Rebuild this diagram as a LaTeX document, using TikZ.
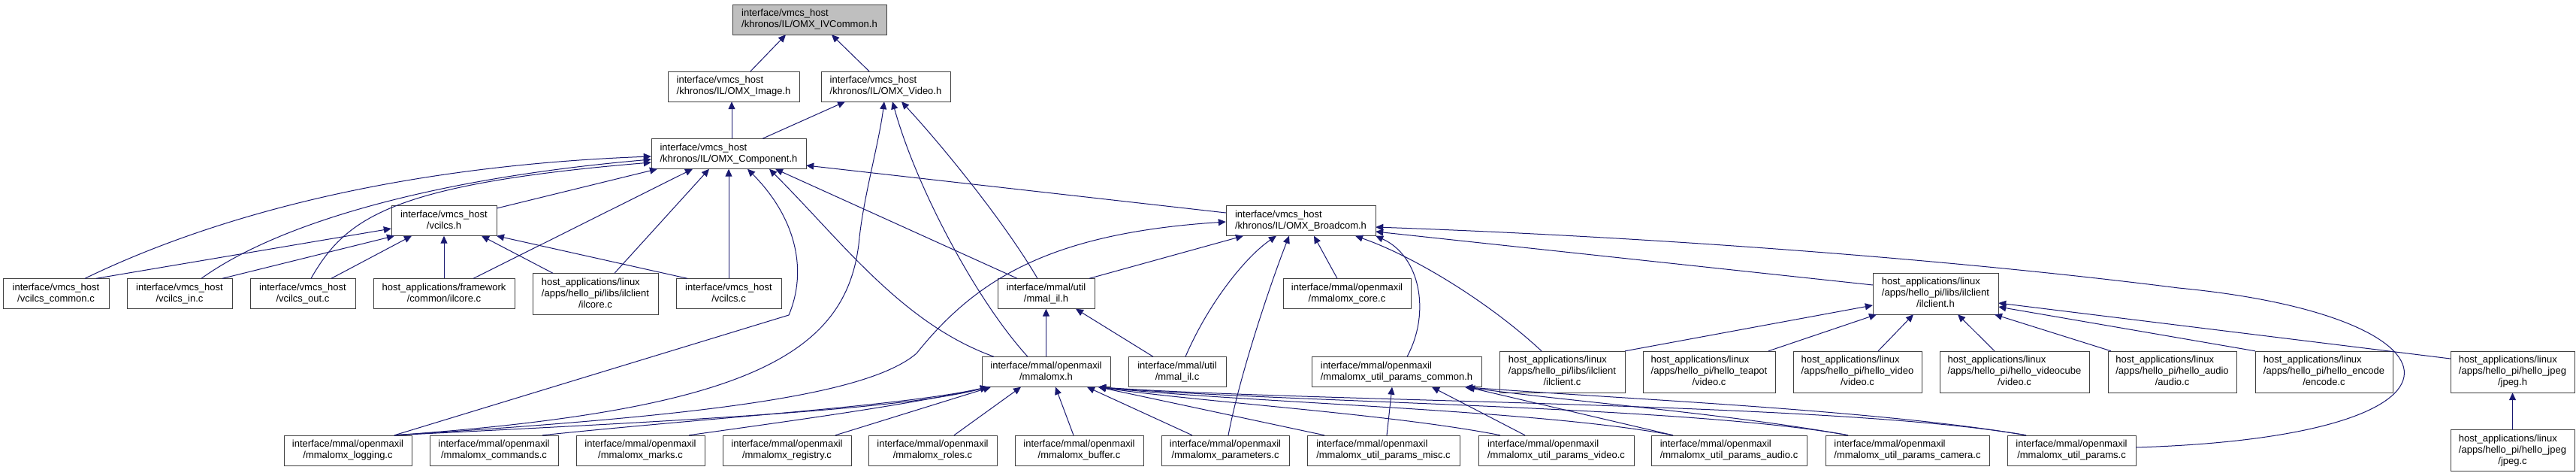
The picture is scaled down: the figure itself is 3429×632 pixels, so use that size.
\documentclass[tikz,border=0pt]{standalone}
\usepackage{fontspec}
\setmainfont{Liberation Sans}
\usetikzlibrary{arrows.meta}
\usepackage{xcolor}
\definecolor{edgeblue}{HTML}{191970}
\newcommand{\lbltwo}[2]{\begin{tabular}{@{}l@{}}#1\\\multicolumn{1}{@{}c@{}}{#2}\end{tabular}}
\newcommand{\lblthree}[3]{\begin{tabular}{@{}l@{}}#1\\#2\\\multicolumn{1}{@{}c@{}}{#3}\end{tabular}}

\begin{document}
\begin{tikzpicture}[x=1pt,y=-1pt,
    filebox/.style={draw=black!75,fill=white,inner xsep=6pt,inner ysep=2pt,minimum height=40pt,anchor=center,font=\fontsize{13}{15}\selectfont},
    tall/.style={minimum height=55pt},
    root/.style={fill=gray!50},
    dep/.style={draw=edgeblue,line width=1pt,-{Triangle[length=10pt,width=9pt]}},
]
\fill[white] (0,0) rectangle (3429,632);
\useasboundingbox (0,0) rectangle (3429,632);

% headers
\node[filebox,root,minimum width=205pt] (ivc)  at (1077.5,26)  {\lbltwo{interface/vmcs\_host}{/khronos/IL/OMX\_IVCommon.h}};
\node[filebox,minimum width=175pt]      (img)  at (976.5,115)  {\lbltwo{interface/vmcs\_host}{/khronos/IL/OMX\_Image.h}};
\node[filebox,minimum width=172pt]      (vid)  at (1179,115)   {\lbltwo{interface/vmcs\_host}{/khronos/IL/OMX\_Video.h}};
\node[filebox,minimum width=206pt]      (comp) at (970,204.5)  {\lbltwo{interface/vmcs\_host}{/khronos/IL/OMX\_Component.h}};
\node[filebox,minimum width=140pt]      (vch)  at (591,293.5)  {\lbltwo{interface/vmcs\_host}{/vcilcs.h}};
\node[filebox,minimum width=199pt]      (bcm)  at (1731.5,293.5) {\lbltwo{interface/vmcs\_host}{/khronos/IL/OMX\_Broadcom.h}};

% third row
\node[filebox,minimum width=141pt]      (vcom)  at (74.5,390.5)  {\lbltwo{interface/vmcs\_host}{/vcilcs\_common.c}};
\node[filebox,minimum width=140pt]      (vin)   at (239,390.5)   {\lbltwo{interface/vmcs\_host}{/vcilcs\_in.c}};
\node[filebox,minimum width=140pt]      (vout)  at (403,390.5)   {\lbltwo{interface/vmcs\_host}{/vcilcs\_out.c}};
\node[filebox,minimum width=188pt]      (fwil)  at (591,390.5)   {\lbltwo{host\_applications/framework}{/common/ilcore.c}};
\node[filebox,tall,minimum width=167pt] (libil) at (792.5,391)   {\lblthree{host\_applications/linux}{/apps/hello\_pi/libs/ilclient}{/ilcore.c}};
\node[filebox,minimum width=140pt]      (vcc)   at (970,390.5)   {\lbltwo{interface/vmcs\_host}{/vcilcs.c}};
\node[filebox,minimum width=129pt]      (milh)  at (1392.5,390.5) {\lbltwo{interface/mmal/util}{/mmal\_il.h}};
\node[filebox,minimum width=170pt]      (core)  at (1793,390.5)  {\lbltwo{interface/mmal/openmaxil}{/mmalomx\_core.c}};
\node[filebox,tall,minimum width=167pt] (ilch)  at (2576.5,390.5) {\lblthree{host\_applications/linux}{/apps/hello\_pi/libs/ilclient}{/ilclient.h}};

% fourth row
\node[filebox,minimum width=171pt]      (omxh)   at (1392.5,494.5) {\lbltwo{interface/mmal/openmaxil}{/mmalomx.h}};
\node[filebox,minimum width=130pt]      (milc)   at (1567,494.5)   {\lbltwo{interface/mmal/util}{/mmal\_il.c}};
\node[filebox,minimum width=226pt]      (upch)   at (1859,494.5)   {\lbltwo{interface/mmal/openmaxil}{/mmalomx\_util\_params\_common.h}};
\node[filebox,tall,minimum width=167pt] (ilcc)   at (2079.5,494.5) {\lblthree{host\_applications/linux}{/apps/hello\_pi/libs/ilclient}{/ilclient.c}};
\node[filebox,tall,minimum width=176pt] (teapot) at (2275,494.5)   {\lblthree{host\_applications/linux}{/apps/hello\_pi/hello\_teapot}{/video.c}};
\node[filebox,tall,minimum width=171pt] (hvid)   at (2472.5,494.5) {\lblthree{host\_applications/linux}{/apps/hello\_pi/hello\_video}{/video.c}};
\node[filebox,tall,minimum width=199pt] (vcube)  at (2681.5,494.5) {\lblthree{host\_applications/linux}{/apps/hello\_pi/hello\_videocube}{/video.c}};
\node[filebox,tall,minimum width=171pt] (haud)   at (2891.5,494.5) {\lblthree{host\_applications/linux}{/apps/hello\_pi/hello\_audio}{/audio.c}};
\node[filebox,tall,minimum width=183pt] (henc)   at (3093.5,494.5) {\lblthree{host\_applications/linux}{/apps/hello\_pi/hello\_encode}{/encode.c}};
\node[filebox,tall,minimum width=165pt] (jpgh)   at (3344.5,494.5) {\lblthree{host\_applications/linux}{/apps/hello\_pi/hello\_jpeg}{/jpeg.h}};

% bottom row
\node[filebox,minimum width=170pt]      (log)   at (463,599)    {\lbltwo{interface/mmal/openmaxil}{/mmalomx\_logging.c}};
\node[filebox,minimum width=171pt]      (cmd)   at (657.5,599)  {\lbltwo{interface/mmal/openmaxil}{/mmalomx\_commands.c}};
\node[filebox,minimum width=171pt]      (marks) at (852.5,599)  {\lbltwo{interface/mmal/openmaxil}{/mmalomx\_marks.c}};
\node[filebox,minimum width=171pt]      (reg)   at (1047.5,599) {\lbltwo{interface/mmal/openmaxil}{/mmalomx\_registry.c}};
\node[filebox,minimum width=171pt]      (roles) at (1241.5,599) {\lbltwo{interface/mmal/openmaxil}{/mmalomx\_roles.c}};
\node[filebox,minimum width=171pt]      (buf)   at (1436.5,599) {\lbltwo{interface/mmal/openmaxil}{/mmalomx\_buffer.c}};
\node[filebox,minimum width=170pt]      (par)   at (1631,599)   {\lbltwo{interface/mmal/openmaxil}{/mmalomx\_parameters.c}};
\node[filebox,minimum width=203pt]      (misc)  at (1841.5,599) {\lbltwo{interface/mmal/openmaxil}{/mmalomx\_util\_params\_misc.c}};
\node[filebox,minimum width=207pt]      (pvid)  at (2071.5,599) {\lbltwo{interface/mmal/openmaxil}{/mmalomx\_util\_params\_video.c}};
\node[filebox,minimum width=207pt]      (paud)  at (2301.5,599) {\lbltwo{interface/mmal/openmaxil}{/mmalomx\_util\_params\_audio.c}};
\node[filebox,minimum width=218pt]      (cam)   at (2539,599)   {\lbltwo{interface/mmal/openmaxil}{/mmalomx\_util\_params\_camera.c}};
\node[filebox,minimum width=171pt]      (upc)   at (2757.5,599) {\lbltwo{interface/mmal/openmaxil}{/mmalomx\_util\_params.c}};
\node[filebox,tall,minimum width=165pt] (jpgc)  at (3344.5,599) {\lblthree{host\_applications/linux}{/apps/hello\_pi/hello\_jpeg}{/jpeg.c}};

% straight includes, top of child to bottom of parent
\foreach \c/\dc/\p/\dp in {img/22.5/ivc/-31.5, vid/-22/ivc/29.5,
    comp/4/img/-2.5, comp/45/vid/-54,
    fwil/39/comp/-48, libil/25.5/comp/-26, vcc/0/comp/0, milh/-38.5/comp/62,
    vin/57/vch/-66, vout/38/vch/-43, fwil/0/vch/0, libil/-56.5/vch/50, vcc/-55/vch/70,
    milh/57.5/bcm/-76.5, core/-13/bcm/17.5,
    omxh/0/milh/0, milc/-32/milh/39.5,
    reg/64.5/omxh/-73.5, roles/28.5/omxh/-33.5, buf/-7.5/omxh/12.5, par/-44/omxh/54.5, misc/-78.5/omxh/69.5,
    misc/4.5/upch/-6, pvid/-41.5/upch/47, paud/-74.5/upch/94,
    teapot/79/ilch/-78.5, hvid/27.5/ilch/-29.5, vcube/-26.5/ilch/29.5, haud/-81.5/ilch/78.5,
    jpgc/0/jpgh/0}
  \draw[dep] ([xshift=\dc pt]\c.north) -- ([xshift=\dp pt]\p.south);

% side entries
\draw[dep] (bcm.west |- 0,283) -- (comp.east |- 0,220);
\draw[dep] (vch.east |- 0,277) -- ([xshift=-95pt]comp.south);
\draw[dep] ([xshift=53.5pt]vcom.north) -- (vch.west |- 0,304);
\draw[dep] (ilch.west |- 0,379) -- (bcm.east |- 0,308);
\draw[dep] (ilcc.north east) -- (ilch.west |- 0,406);
\draw[dep] (henc.north west) -- (ilch.east |- 0,408);
\draw[dep] (jpgh.west |- 0,477) -- (ilch.east |- 0,403);

% curved includes of OMX_Component.h and OMX_Video.h
\draw[dep] ([xshift=38.5pt]vcom.north) .. controls (300,280) and (550,220) .. (comp.west |- 0,208);
\draw[dep] ([xshift=29pt]vin.north) .. controls (380,290) and (600,235) .. (comp.west |- 0,212);
\draw[dep] ([xshift=11pt]vout.north) .. controls (460,290) and (520,245) .. (comp.west |- 0,216);
\draw[dep] ([xshift=-69.5pt]omxh.north) .. controls (1200,430) and (1120,320) .. ([xshift=54pt]comp.south);
\draw[dep] ([xshift=62pt]log.north) -- (1050,419) .. controls (1075,360) and (1060,290) .. ([xshift=25pt]comp.south);
\draw[dep] ([xshift=62pt]log.north) .. controls (1000,545) and (1130,470) .. (1144,316) .. controls (1150,260) and (1170,190) .. ([xshift=-2pt]vid.south);
\draw[dep] ([xshift=-24.5pt]omxh.north) .. controls (1300,400) and (1220,250) .. ([xshift=9pt]vid.south);
\draw[dep] ([xshift=-11.5pt]milh.north) .. controls (1340,300) and (1260,200) .. ([xshift=21pt]vid.south);

% curved includes of OMX_Broadcom.h
\draw[dep] ([xshift=62pt]log.north) .. controls (900,555) and (1150,530) .. (1220,470) .. controls (1300,370) and (1400,310) .. (bcm.west |- 0,295);
\draw[dep] ([xshift=11pt]milc.north) .. controls (1610,400) and (1660,340) .. ([xshift=-32.5pt]bcm.south);
\draw[dep] ([xshift=4pt]par.north) .. controls (1650,500) and (1690,380) .. ([xshift=-15.5pt]bcm.south);
\draw[dep] ([xshift=14pt]upch.north) .. controls (1905,415) and (1890,340) .. (bcm.south east);
\draw[dep] ([xshift=-27.5pt]ilcc.north) .. controls (1980,400) and (1880,340) .. ([xshift=72.5pt]bcm.south);
\draw[dep] (upc.east |- 0,595) .. controls (3330,580) and (3290,420) .. (2900,383) .. controls (2600,345) and (2200,315) .. (bcm.east |- 0,302);

% long includes of mmalomx.h
\draw[dep] ([xshift=62pt]log.north) .. controls (900,560) and (1200,545) .. ([xshift=-77.5pt]omxh.south);
\draw[dep] ([xshift=64.5pt]cmd.north) .. controls (950,555) and (1200,540) .. ([xshift=-77.5pt]omxh.south);
\draw[dep] ([xshift=64.5pt]marks.north) .. controls (1050,560) and (1200,540) .. ([xshift=-77.5pt]omxh.south);
\draw[dep] ([xshift=-74.5pt]pvid.north) .. controls (1850,550) and (1600,535) .. ([xshift=69.5pt]omxh.south);
\draw[dep] ([xshift=-74.5pt]paud.north) .. controls (2050,545) and (1650,535) .. ([xshift=69.5pt]omxh.south);
\draw[dep] ([xshift=-79pt]cam.north) .. controls (2250,540) and (1700,535) .. ([xshift=69.5pt]omxh.south);
\draw[dep] ([xshift=-60.5pt]upc.north) .. controls (2450,535) and (1750,535) .. ([xshift=69.5pt]omxh.south);

% long includes of mmalomx_util_params_common.h
\draw[dep] ([xshift=-79pt]cam.north) .. controls (2300,550) and (2100,535) .. ([xshift=91pt]upch.south);
\draw[dep] ([xshift=-60.5pt]upc.north) .. controls (2500,545) and (2150,530) .. ([xshift=91pt]upch.south);
\end{tikzpicture}
\end{document}
